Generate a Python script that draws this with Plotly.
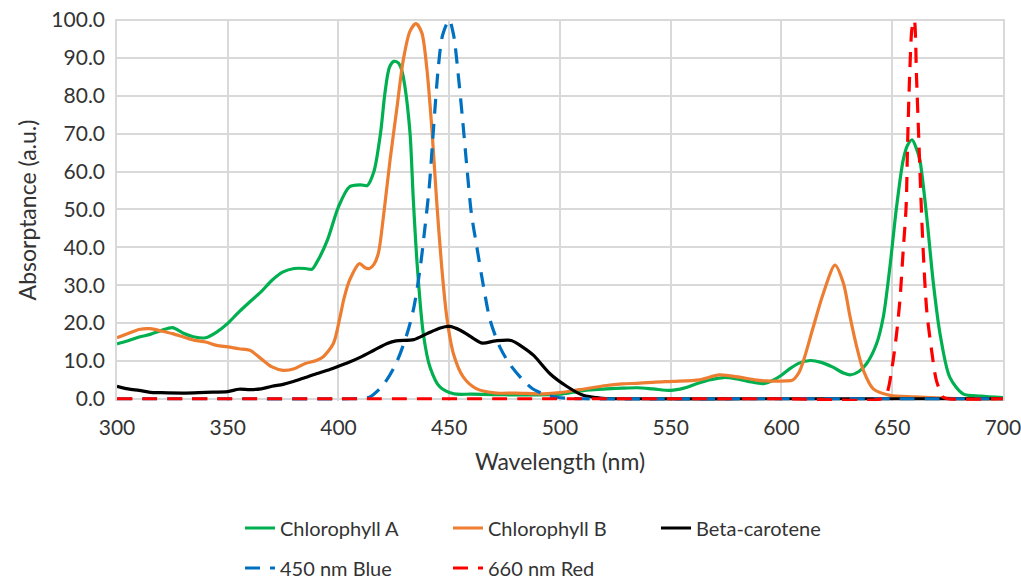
import plotly.graph_objects as go

# Absorption spectra of photosynthetic pigments and two LED emission lines
chla_nm = [300, 305, 310, 315, 320, 325, 330, 335, 340, 345, 350, 355, 360, 365, 370,
           375, 380, 385, 388, 390, 395, 400, 405, 410, 413, 416, 419, 421, 423, 425,
           427, 428.5, 430, 432.3, 433.8, 435.6, 438.3, 441.3, 445.8, 452, 460, 470,
           480, 490, 500, 506, 513, 521, 528, 535, 542, 550, 556, 562, 568, 574, 580,
           585, 592, 596, 600, 604, 608, 613, 618, 623, 628, 631, 635, 638.5, 643, 646,
           649, 652, 655, 657, 659, 661, 662.5, 665.6, 668.6, 671.6, 676, 682, 690, 700]
chla_val = [14.5, 15.3, 16.3, 17.0, 18.0, 18.8, 17.3, 16.3, 16.1, 17.6, 19.9, 22.9, 25.6,
            28.2, 31.3, 33.5, 34.4, 34.4, 34.2, 35.8, 41.9, 50.7, 56.0, 56.5, 56.3, 60.0,
            70.2, 80.8, 87.5, 89.1, 88.7, 86.9, 82.5, 70.2, 52.5, 34.9, 17.2, 8.4, 3.1,
            1.3, 1.2, 1.1, 1.0, 1.0, 1.2, 1.7, 2.3, 2.6, 2.8, 2.9, 2.6, 2.2, 2.8, 4.0,
            5.0, 5.6, 5.2, 4.6, 4.0, 4.8, 6.2, 8.0, 9.4, 10.1, 9.6, 8.4, 6.8, 6.3, 7.2,
            9.3, 14.6, 21.6, 34.9, 50.7, 63.1, 67.0, 68.4, 66.0, 63.1, 48.1, 30.5, 17.2,
            5.7, 1.3, 0.7, 0.3]

chlb_nm = [300, 305, 310, 315, 320, 325, 330, 335, 340, 345, 350, 355, 360, 365, 370,
           375, 380, 385, 390, 393, 397.7, 400.7, 402.5, 405, 409.5, 412, 414, 416, 418,
           420.3, 423.3, 426.3, 429.3, 432.3, 435, 437.6, 439.8, 442.1, 444.3, 446.6,
           448.9, 451.9, 456.4, 462.4, 471.4, 480, 492.5, 500, 509, 521, 528, 536, 543,
           551, 563, 572, 581, 588, 593, 602, 605, 608, 610, 614.4, 618.9, 624.2, 628,
           631, 634, 637, 641.5, 649, 660, 670, 680, 700]
chlb_val = [16.1, 17.2, 18.3, 18.5, 17.9, 17.2, 16.3, 15.4, 15.0, 14.1, 13.7, 13.2, 12.8,
            10.6, 8.4, 7.5, 7.9, 9.3, 10.1, 11.0, 14.6, 21.6, 26.5, 31.3, 35.7, 34.6,
            34.4, 35.5, 38.4, 48.1, 63.1, 76.4, 89.6, 97.1, 99.1, 96.7, 87.8, 71.9, 52.5,
            34.9, 21.6, 11.9, 5.7, 2.6, 1.5, 1.5, 1.3, 1.6, 2.4, 3.5, 3.9, 4.1, 4.4, 4.6,
            5.0, 6.3, 5.7, 5.0, 4.7, 4.7, 4.9, 7.0, 10.1, 19.0, 27.8, 35.3, 30.5, 21.6,
            13.7, 7.5, 2.6, 0.9, 0.5, 0.2, 0.0, 0.0]

beta_nm = [300, 305, 310, 315, 320, 330, 340, 350, 355, 360, 365, 370, 375, 380, 385,
           390, 395, 400, 405, 410, 416, 422, 426, 434, 440, 446, 450, 455, 461, 465,
           471, 478, 483, 488, 495.5, 503, 510.5, 518, 525, 600, 700]
beta_val = [3.3, 2.6, 2.2, 1.7, 1.6, 1.5, 1.7, 1.9, 2.5, 2.4, 2.6, 3.3, 3.8, 4.6, 5.6,
            6.6, 7.5, 8.6, 9.7, 11.0, 12.8, 14.6, 15.3, 15.6, 17.2, 18.7, 19.1, 18.1,
            15.9, 14.7, 15.3, 15.4, 13.7, 11.5, 6.6, 3.3, 0.9, 0.2, 0.0, 0.0, 0.0]

blue_nm = [300, 350, 405, 410, 414, 420, 426, 431, 434, 437, 439, 441, 443, 445, 447,
           450, 452, 454, 456, 458, 460, 462.5, 465.5, 468.5, 473, 477.5, 483.5, 488,
           495, 503, 510, 600, 700]
blue_val = [0, 0, 0, 0.1, 0.4, 3.5, 9.3, 17.2, 24.0, 35.0, 45.0, 56.0, 72.0, 87.0, 96.0,
            100, 96.0, 86.0, 74.0, 61.0, 49.0, 40.0, 29.6, 20.7, 13.5, 9.0, 4.8, 2.5,
            0.8, 0.1, 0, 0, 0]

red_nm = [300, 400, 500, 600, 645, 647.5, 650, 652, 653.5, 655, 656.3, 657, 658, 659,
          660, 661, 662, 663, 664, 665.6, 667.8, 670, 673, 675, 700]
red_val = [0, 0, 0, 0, 0, 1.3, 8.4, 17.2, 26.0, 39.3, 50.7, 68.0, 87.0, 98.0, 100, 85.0,
           69.0, 53.0, 39.3, 23.4, 12.8, 4.8, 0.4, 0, 0]

x_ticks = [300, 350, 400, 450, 500, 550, 600, 650, 700]
y_ticks = [0, 10, 20, 30, 40, 50, 60, 70, 80, 90, 100]

FONT = "Lato"
TEXT = "#333333"
GRID = "#d9d9d9"

fig = go.Figure()

series = [
    ("Chlorophyll A", chla_nm, chla_val, "#00B050", "solid", "legend"),
    ("Chlorophyll B", chlb_nm, chlb_val, "#ED7D31", "solid", "legend"),
    ("Beta-carotene", beta_nm, beta_val, "#000000", "solid", "legend"),
    ("450 nm Blue", blue_nm, blue_val, "#0070C0", "15px,10px", "legend2"),
    ("660 nm Red", red_nm, red_val, "#FF0000", "15px,10px", "legend2"),
]
for name, xs, ys, color, dash, leg in series:
    fig.add_trace(go.Scatter(
        x=xs, y=ys, name=name, mode="lines",
        line=dict(color=color, width=3.2, dash=dash, shape="spline", smoothing=0.8),
        legend=leg,
    ))

legend_common = dict(
    orientation="h", xref="container", yref="container",
    xanchor="left", yanchor="middle",
    font=dict(family=FONT, size=20, color=TEXT),
    bgcolor="rgba(0,0,0,0)", entrywidth=163, entrywidthmode="pixels",
    itemwidth=30, tracegroupgap=0,
)

fig.update_layout(
    width=1021, height=579,
    margin=dict(l=117, r=18, t=19, b=178),
    paper_bgcolor="white", plot_bgcolor="white",
    font=dict(family=FONT, color=TEXT),
    showlegend=True,
    legend=dict(x=240 / 1021, y=1 - 528 / 579, **legend_common),
    legend2=dict(x=240 / 1021, y=1 - 568 / 579, **legend_common),
    xaxis=dict(
        range=[300, 700.05], tickvals=x_ticks, ticktext=[str(v) for v in x_ticks],
        showgrid=True, gridcolor=GRID, gridwidth=1.5, automargin=False,
        zeroline=False, showline=False, ticks="", ticklabeloverflow="allow",
        tickfont=dict(family=FONT, size=21, color=TEXT), ticklabelstandoff=12,
        title=dict(text="Wavelength (nm)", font=dict(family=FONT, size=23, color=TEXT),
                   standoff=15),
    ),
    yaxis=dict(
        range=[-0.6, 100.3], tickvals=y_ticks, ticktext=[f"{v:.1f}" for v in y_ticks],
        showgrid=True, gridcolor=GRID, gridwidth=1.5, automargin=False,
        zeroline=False, showline=True, mirror=True, linecolor=GRID, linewidth=1.5,
        ticks="", ticklabeloverflow="allow",
        tickfont=dict(family=FONT, size=21, color=TEXT), ticklabelstandoff=6,
        title=dict(text="Absorptance (a.u.)", font=dict(family=FONT, size=23, color=TEXT),
                   standoff=8),
    ),
)

fig.write_html("out.html")
